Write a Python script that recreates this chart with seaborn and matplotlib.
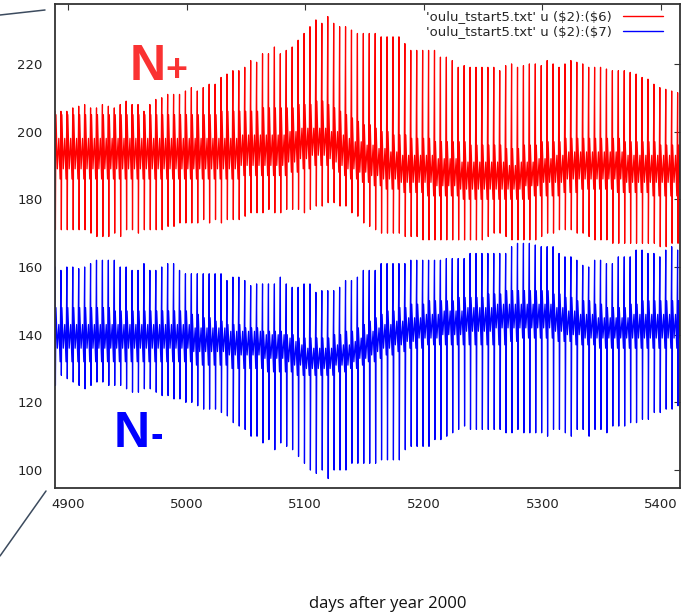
import numpy as np
import pandas as pd
import matplotlib
matplotlib.use("Agg")
import matplotlib.pyplot as plt
from matplotlib.lines import Line2D
import seaborn as sns

# ---------------- data (one value per 5-day cycle) -------------
cycle_start_days = list(range(4889, 5415, 5))  # 106 cycles

red_top = [206, 206, 206, 207, 207.5, 208, 207, 207, 208, 207.5, 207, 208, 209, 208, 208, 206,
           208, 209.5, 210, 211, 211, 211, 212, 213, 212, 213, 214, 214, 216, 217, 218, 218,
           219, 221, 220.5, 223, 223, 225, 223, 224, 225, 227, 229, 231, 233, 232, 234, 232,
           231, 231, 230, 229, 229, 229, 229, 228, 228, 228, 228, 226, 224, 224, 224, 224,
           224, 222, 222,
           221, 219, 219.5, 219, 219, 219, 219, 219, 218, 219.5, 220, 219, 219.5, 220, 220,
           219.5, 221, 220, 219, 220, 221, 220.5, 220, 219, 219, 219, 218.5, 218, 218, 218,
           217.5, 217, 216, 215.5, 214, 213, 212.5, 212, 211.5]
red_bottom = [171, 171, 171, 171, 171, 171, 170,
              169, 169, 169, 170, 169,
              171, 171, 170, 171, 171, 171, 171, 172, 172,
              173, 173, 173, 173, 174, 173, 174, 173, 174, 174, 174,
              175, 176, 176, 176, 177, 176, 176, 177, 177, 177, 176,
              177, 178, 178, 179, 179, 178, 178, 176, 175,
              173, 172, 171, 170, 170, 170, 170, 169, 169,
              169, 168, 168, 168, 168, 168, 168, 168, 168,
              168, 168, 168, 169, 170, 170, 169, 168, 168, 168, 168,
              168, 169, 170, 170, 171, 171, 171, 170, 170, 169, 168,
              168, 168, 167, 167, 167, 167, 167, 167, 167, 167, 166, 166, 167, 167]
# outer edges of the dense band
red_band_hi = ([205] * 23 +
               [205, 205, 205, 205, 205, 206, 206, 206, 206, 206, 206, 206, 207, 207, 207, 207] +
               [207, 207, 208, 208, 208, 209, 209, 208, 207, 206, 205] +
               [204, 203, 202, 202, 201, 200, 200, 199, 199, 199, 198] +
               [198, 198, 198, 197, 197, 197, 197, 197, 197, 196, 196, 196, 196, 196, 196] +
               [195, 195, 195, 196, 196, 196, 197, 197] +
               [197, 197, 198, 198, 198, 198, 198, 198, 198, 198, 198, 198, 197, 197, 197, 197] +
               [197, 197, 196, 196, 196, 196])
red_band_lo = ([186] * 23 +
               [186] * 8 + [187] * 8 +
               [188, 188, 189, 189, 190, 190, 190, 189, 188, 187, 186] +
               [186, 185, 185, 184, 184, 183, 183, 183, 182, 182, 182] +
               [182, 181, 181, 181, 181, 181, 181, 180, 180, 180, 180, 180, 180, 180, 180] +
               [180] * 4 + [181] * 4 +
               [181, 182, 182, 182, 183, 183, 183, 183, 183, 183, 182, 182, 182, 182, 182, 182] +
               [181] * 6)
# darker core of the band
red_core_hi = ([198] * 23 +
               [198] * 8 + [199] * 8 +
               [200, 200, 201, 201, 201, 201, 201, 200, 200, 199, 198] +
               [197, 197, 196, 196, 195, 195, 194, 194, 193, 193, 193] +
               [193, 193, 193, 192, 192, 192, 192, 191, 191, 191, 191, 191, 191, 191, 191] +
               [190, 190, 191, 191, 191, 192, 192, 192] +
               [193, 193, 194, 194, 194, 194, 194, 194, 194, 194, 194, 194, 193, 193, 193, 193] +
               [193] * 6)
red_core_lo = ([189] * 23 +
               [189] * 8 + [190] * 8 +
               [191, 191, 192, 192, 193, 193, 193, 192, 191, 190, 189] +
               [189, 188, 188, 187, 187, 186, 186, 186, 185, 185, 185] +
               [185, 185, 185, 184, 184, 184, 184, 183, 183, 183, 183, 183, 183, 183, 183] +
               [183, 183, 183, 184, 184, 184, 185, 185] +
               [185, 185, 186, 186, 186, 186, 186, 186, 186, 186, 186, 186, 185, 185, 185, 185] +
               [185] * 6)

blue_top = [160, 159, 160, 160, 159.5, 160, 161, 162, 162, 162, 162, 160, 160, 159, 159, 161,
            159, 159, 160, 161, 161, 159, 158, 158, 158, 158, 158, 158, 158, 156, 157, 157,
            156, 154.5, 155, 155, 155, 155, 157, 155, 154, 154, 155, 155, 152.5, 153, 153, 153,
            154, 156, 156, 157, 159, 159, 159, 161, 161, 161, 161, 161, 162, 162, 162, 162,
            162, 162, 162.5, 162.5, 162.5, 162.5,
            164, 164, 164, 164, 164, 164, 164, 166, 167, 167, 167, 166.5, 166, 166, 166,
            164, 163, 163, 162, 160.5, 160, 162, 162, 161, 161, 163, 163, 163,
            165, 165, 164, 164, 163, 165, 166, 165]
blue_bottom = [125, 128, 127, 126, 125, 124, 125, 126, 126, 125, 125, 125, 124, 123, 123, 124,
               124, 123, 122, 122, 121, 121, 120, 120, 119, 118, 118, 118, 117, 116, 114, 113,
               112, 110, 110, 108, 109, 106, 108, 107, 106, 104, 102, 100, 99, 100, 97.5, 100,
               100, 100, 102, 102, 102, 102, 102, 103, 103, 103, 103, 106, 107, 107, 107, 107,
               109, 109, 110, 111, 112, 113,
               112, 112, 112, 112, 112, 112, 111, 111, 112, 111, 111, 111, 111, 110, 112, 112,
               111, 110, 112, 112, 110, 112, 112, 111, 113, 113, 113, 114, 114, 115, 115, 117,
               117, 118, 118, 119]
blue_band_hi = ([148] * 10 + [147] * 13 +
                [146, 146, 145, 145, 144, 144, 143, 143, 143, 142, 142, 142, 141, 141, 141, 141] +
                [140, 140, 139, 139, 139, 139, 139, 139, 140, 140, 141] +
                [141, 142, 143, 144, 145, 146, 147, 147, 148, 148, 149] +
                [149, 149, 150, 150, 150, 150, 150, 151, 151, 151, 151, 151, 152, 152, 152] +
                [153] * 8 +
                [152, 152, 151, 151, 150, 150, 150, 149, 149, 148, 148, 148, 148, 149, 149, 150] +
                [150] * 6)
blue_band_lo = ([132] * 23 +
                [131] * 6 + [130] * 6 + [129] * 4 +
                [129, 128, 128, 128, 128, 128, 128, 128, 129, 129, 130] +
                [130, 131, 132, 132, 133, 134, 134, 135, 135, 136, 136] +
                [136] + [137] * 14 +
                [138, 138, 139, 139, 139, 139, 139, 139] +
                [138, 138, 138, 137, 137, 137, 137, 136, 136, 136, 136, 136, 136, 136, 136, 136] +
                [136] * 6)
blue_core_hi = ([143] * 23 +
                [142] * 6 + [141] * 6 + [140] * 4 +
                [139, 138, 137, 136, 136, 136, 136, 136, 137, 137, 137] +
                [138, 139, 140, 141, 142, 143, 143, 144, 144, 145, 145] +
                [145, 146, 146, 146, 147, 147, 147, 147, 148, 148, 148, 148, 148, 149, 149] +
                [149] * 8 +
                [148, 148, 147, 147, 146, 146, 146, 145, 145, 145, 145, 145, 145, 146, 146, 146] +
                [146] * 6)
blue_core_lo = ([136] * 23 +
                [135] * 6 + [134] * 6 + [133] * 4 +
                [132, 131, 131, 130, 130, 130, 130, 130, 131, 131, 131] +
                [132, 133, 133, 134, 135, 136, 136, 137, 137, 138, 138] +
                [139, 139, 139, 139, 140, 140, 140, 140, 141, 141, 141, 141, 141, 142, 142] +
                [142] * 8 +
                [141, 141, 140, 140, 140, 139, 139, 139, 139, 139, 139, 139, 139, 139, 139, 139] +
                [139] * 6)

series_names = ["N+", "N-"]
legend_labels = ["'oulu_tstart5.txt' u (\\$2):(\\$6)", "'oulu_tstart5.txt' u (\\$2):(\\$7)"]
x_ticks = [4900, 5000, 5100, 5200, 5300, 5400]
y_ticks = [100, 120, 140, 160, 180, 200, 220]

# ---------------- build the long table --------------------------------------------------
# order of the read levels inside one cycle and their position (days after cycle start)
PHASE = [0.0, 0.35, 0.8, 2.0, 3.2, 4.3]
rows = []
for name, tops, bots, his, los, chs, cls in [
        ("N+", red_top, red_bottom, red_band_hi, red_band_lo, red_core_hi, red_core_lo),
        ("N-", blue_top, blue_bottom, blue_band_hi, blue_band_lo, blue_core_hi, blue_core_lo)]:
    for d, t, b, h, l, ch, cl in zip(cycle_start_days, tops, bots, his, los, chs, cls):
        for off, v in zip(PHASE, (t, b, h, cl, ch, l)):
            rows.append((d + off, v, name))
df = pd.DataFrame(rows, columns=["day", "value", "series"])

# ---------------- plot ------------------------------------------------------------------
sns.set_style("white")
plt.rcParams["font.family"] = ["DejaVu Sans"]

W, H = 692, 616
fig = plt.figure(figsize=(W / 100, H / 100), dpi=100)
ax = fig.add_axes([55 / W, 1 - 488 / H, 625 / W, 484 / H])

palette = {"N+": "#ff0000", "N-": "#0000ff"}
sns.lineplot(data=df, x="day", y="value", hue="series", palette=palette,
             estimator=None, sort=False, lw=0.9, ax=ax, legend=False)

ax.set_xlim(4889, 5416)
ax.set_ylim(94.7, 237.7)
ax.set_xticks(x_ticks)
ax.set_yticks(y_ticks)
ax.set_xlabel("")
ax.set_ylabel("")
for s in ax.spines.values():
    s.set_color("#333333")
    s.set_linewidth(1.3)
ax.tick_params(direction="in", top=True, right=True, length=4, width=0.8,
               color="#333333", labelsize=9.5, labelcolor="#222222")
ax.tick_params(axis="y", pad=9)
ax.tick_params(axis="x", pad=7)

handles = [Line2D([], [], color=palette[n], lw=1.0) for n in series_names]
ax.legend(handles, legend_labels, loc="upper right", bbox_to_anchor=(0.9728, 0.9866),
          frameon=False, markerfirst=False, handlelength=3.0, handletextpad=0.9,
          borderpad=0, borderaxespad=0, labelspacing=0.15,
          prop={"family": "DejaVu Sans", "size": 9.5})

# big labels
fig.text(130 / W, 1 - 80 / H, "N", color="#fa3232", fontsize=36, fontweight="bold",
         family="Liberation Sans", ha="left", va="baseline")
fig.text(165.5 / W, 1 - 81 / H, "+", color="#fa3232", fontsize=27, fontweight="bold",
         family="Liberation Sans", ha="left", va="baseline")
fig.text(113.5 / W, 1 - 447 / H, "N", color="#0000ff", fontsize=36, fontweight="bold",
         family="Liberation Sans", ha="left", va="baseline")
fig.text(150.5 / W, 1 - 447 / H, "-", color="#0000ff", fontsize=27, fontweight="bold",
         family="Liberation Sans", ha="left", va="baseline")

fig.text(388 / W, 1 - 604 / H, "days after year 2000", ha="center", va="center",
         fontsize=12, family="Open Sans", color="#111111")

# callout lines at the left edge
for (x0, y0), (x1, y1) in [((0, 15), (45, 10)), ((0, 556), (46, 491))]:
    fig.add_artist(Line2D([x0 / W, x1 / W], [1 - y0 / H, 1 - y1 / H],
                          transform=fig.transFigure, color="#3c4b5e", lw=1.1))

fig.savefig("out.png", dpi=100)
